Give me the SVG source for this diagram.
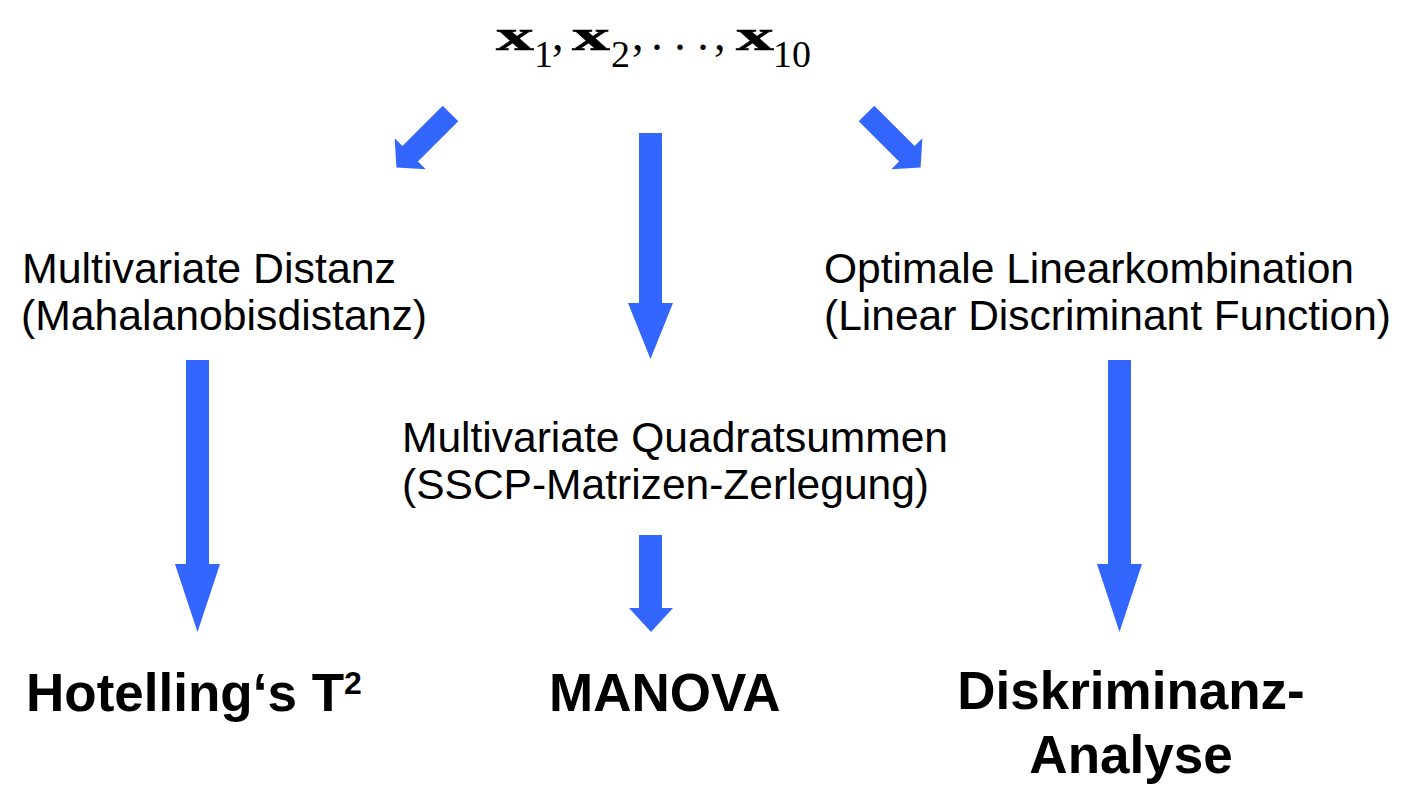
<svg xmlns="http://www.w3.org/2000/svg" width="1403" height="792" viewBox="0 0 1403 792">
<style>
.reg{font-family:"Liberation Sans",Arial,sans-serif;font-size:42px;fill:#000}
.bold{font-family:"Liberation Sans",Arial,sans-serif;font-size:53px;font-weight:bold;fill:#000}
.mx{font-family:"Liberation Serif","Times New Roman",serif;font-size:44px;font-weight:bold;fill:#000;stroke:#000;stroke-width:0.6}
.ms{font-family:"Liberation Serif","Times New Roman",serif;font-size:38px;fill:#000}
.mp{font-family:"Liberation Serif","Times New Roman",serif;font-size:46px;fill:#000}
.arrow{fill:#3366FF;stroke:none}
</style>
<rect width="1403" height="792" fill="#fff"/>
<g id="formula">
<text class="mx" transform="translate(496,50) scale(1.72,1)">x</text>
<text class="ms" x="534" y="67">1</text>
<text class="mp" x="552" y="50">,</text>
<text class="mx" transform="translate(572,50) scale(1.72,1)">x</text>
<text class="ms" x="611" y="67">2</text>
<text class="mp" x="632" y="50">,</text>
<text class="mp" x="657" y="50" text-anchor="middle">.</text>
<text class="mp" x="680" y="50" text-anchor="middle">.</text>
<text class="mp" x="703" y="50" text-anchor="middle">.</text>
<text class="mp" x="714" y="50">,</text>
<text class="mx" transform="translate(736,50) scale(1.72,1)">x</text>
<text class="ms" x="773" y="67">10</text>
</g>
<g id="node-distanz">
<text class="reg" x="22" y="283" textLength="374" lengthAdjust="spacingAndGlyphs">Multivariate Distanz</text>
<text class="reg" x="21" y="330" textLength="406" lengthAdjust="spacingAndGlyphs">(Mahalanobisdistanz)</text>
</g>
<g id="node-linear">
<text class="reg" x="824" y="283" textLength="530" lengthAdjust="spacingAndGlyphs">Optimale Linearkombination</text>
<text class="reg" x="824" y="330" textLength="567" lengthAdjust="spacingAndGlyphs">(Linear Discriminant Function)</text>
</g>
<g id="node-quadrat">
<text class="reg" x="402" y="452" textLength="546" lengthAdjust="spacingAndGlyphs">Multivariate Quadratsummen</text>
<text class="reg" x="402" y="499" textLength="527" lengthAdjust="spacingAndGlyphs">(SSCP-Matrizen-Zerlegung)</text>
</g>
<g id="node-hotelling">
<text class="bold" x="26" y="711">Hotelling‘s T<tspan font-size="32" dy="-17">2</tspan></text>
</g>
<g id="node-manova">
<text class="bold" x="549" y="711">MANOVA</text>
</g>
<g id="node-diskriminanz">
<text class="bold" x="1131" y="709" text-anchor="middle">Diskriminanz-</text>
<text class="bold" x="1131" y="773" text-anchor="middle">Analyse</text>
</g>
<g id="connectors">
<polygon class="arrow" transform="translate(450.5,113.5) rotate(45)" points="-11,0 11,0 11,57 22,57 0,76.5 -22,57 -11,57"/>
<polygon class="arrow" transform="translate(866.5,113.5) rotate(-45)" points="-11,0 11,0 11,57 22,57 0,76.5 -22,57 -11,57"/>
<polygon class="arrow" points="639,133 662,133 662,303 673,303 650.5,359 628,303 639,303"/>
<polygon class="arrow" points="186,360 209,360 209,564 220,564 197.5,632 175,564 186,564"/>
<polygon class="arrow" points="1108,360 1131,360 1131,564 1142,564 1119.5,632 1097,564 1108,564"/>
<polygon class="arrow" points="639,535 662,535 662,608 673,608 651,632 629,608 639,608"/>
</g>
</svg>
